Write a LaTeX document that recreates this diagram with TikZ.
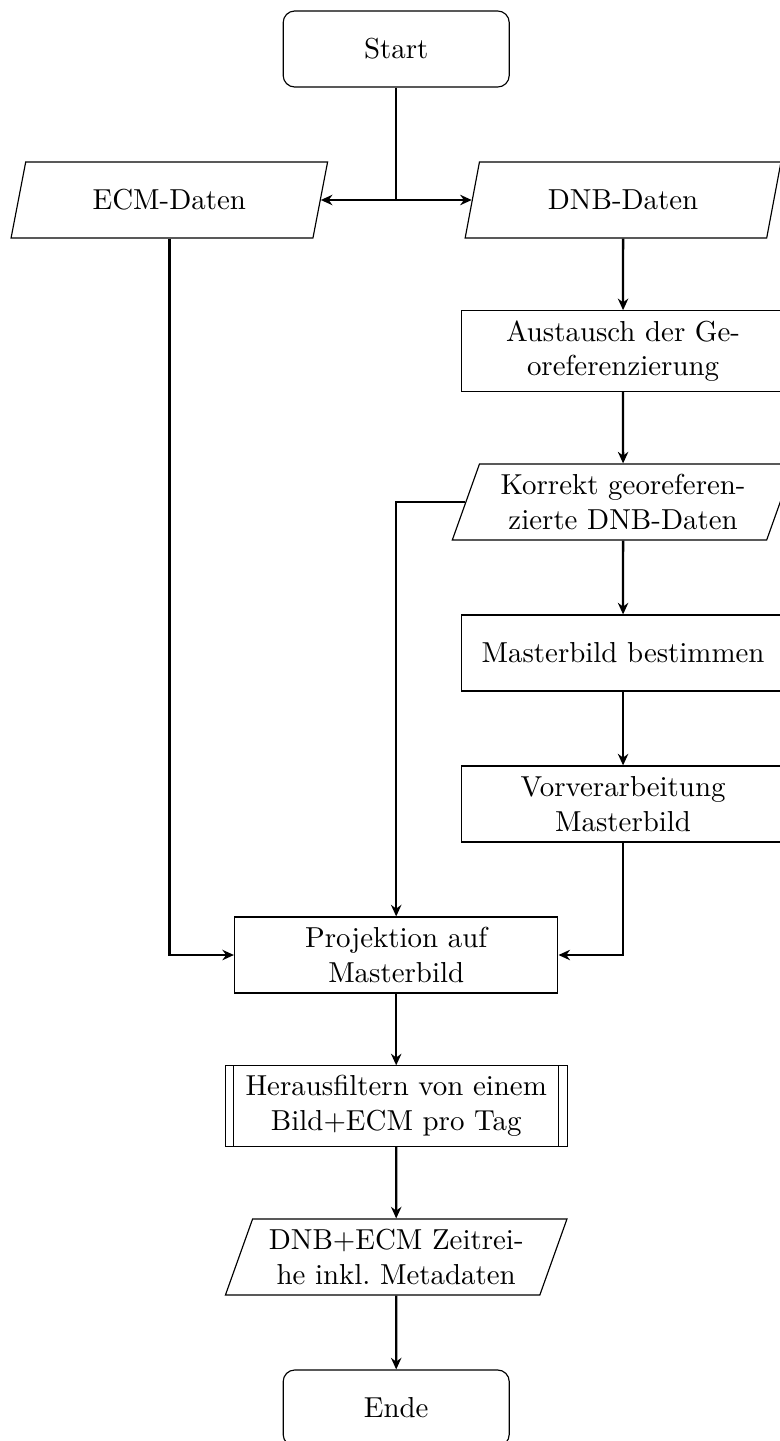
\documentclass[tikz,border=0pt]{standalone}
\usetikzlibrary{shapes.geometric,arrows.meta}

\tikzset{
	startstop/.style={rectangle, rounded corners, draw, minimum width=2.75cm, minimum height=0.925cm, align=center},
	process/.style={rectangle, draw, text width=3.7cm, minimum height=0.925cm, align=center},
	subproc/.style={process, minimum width=4.16cm},
	io/.style={trapezium, trapezium left angle=70, trapezium right angle=110, trapezium stretches=true, draw, text width=3.26cm, minimum height=0.925cm, align=center},
	arrow/.style={thick, -{Stealth[length=4pt,width=3.6pt]}},
	dblarrow/.style={thick, {Stealth[length=4pt,width=3.6pt]}-{Stealth[length=4pt,width=3.6pt]}},
	line/.style={thick}
}

\begin{document}
\begin{tikzpicture}[y=-1.837cm]
	\useasboundingbox (0,0) rectangle (9.477,9.543);
	% nodes
	\node[startstop] (start) at (4.82,0.3245) {Start};
	\node[io] (ecm) at (2.06,1.3245) {ECM-Daten};
	\node[io] (dnb) at (7.58,1.3245) {DNB-Daten};
	\node[process] (geo) at (7.58,2.3245) {Austausch der Ge-\\oreferenzierung};
	\node[io] (korrekt) at (7.58,3.3245) {Korrekt georeferen-\\zierte DNB-Daten};
	\node[process] (master) at (7.58,4.3245) {Masterbild bestimmen};
	\node[process] (vorv) at (7.58,5.3245) {Vorverarbeitung Masterbild};
	\node[process] (proj) at (4.82,6.3245) {Projektion auf Masterbild};
	\node[subproc] (filter) at (4.82,7.3245) {Herausfiltern von einem Bild+ECM pro Tag};
	\node[io] (reihe) at (4.82,8.3245) {DNB+ECM Zeitrei-\\he inkl.\ Metadaten};
	\node[startstop] (ende) at (4.82,9.3245) {Ende};
	\draw ([xshift=0.11cm]filter.north west) -- ([xshift=0.11cm]filter.south west);
	\draw ([xshift=-0.11cm]filter.north east) -- ([xshift=-0.11cm]filter.south east);
	% connectors
	\draw[line] (start.south) -- (start.south |- ecm.east);
	\draw[dblarrow] (ecm.east) -- (dnb.west);
	\draw[arrow] (dnb.south) -- (geo.north);
	\draw[arrow] (geo.south) -- (korrekt.north);
	\draw[arrow] (korrekt.south) -- (master.north);
	\draw[arrow] (master.south) -- (vorv.north);
	\draw[arrow] (ecm.south) |- (proj.west);
	\draw[arrow] (korrekt.west) -| (proj.north);
	\draw[arrow] (vorv.south) |- (proj.east);
	\draw[arrow] (proj.south) -- (filter.north);
	\draw[arrow] (filter.south) -- (reihe.north);
	\draw[arrow] (reihe.south) -- (ende.north);
\end{tikzpicture}
\end{document}
